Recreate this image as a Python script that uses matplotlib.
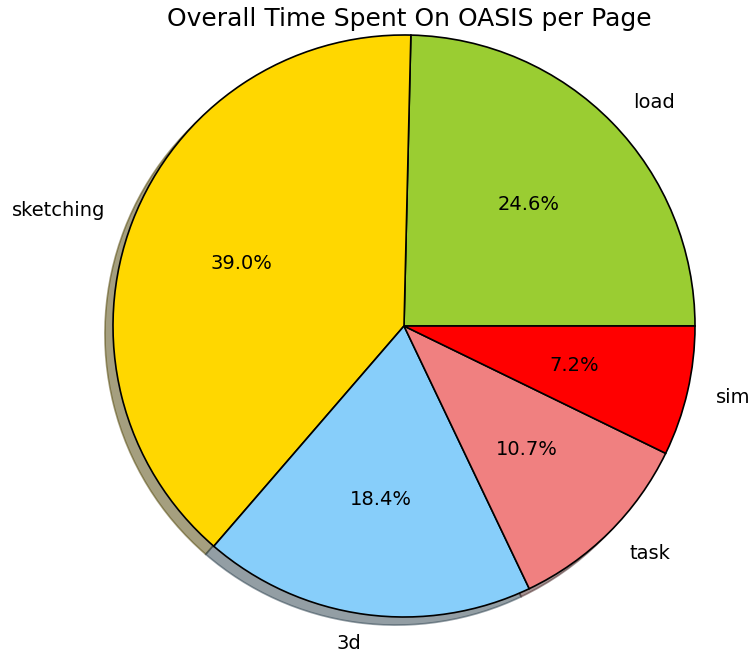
import matplotlib
matplotlib.use('Agg')
import matplotlib.pyplot as plt

# data
labels = ['load', 'sketching', '3d', 'task', 'sim']
shares = [24.6, 39.0, 18.4, 10.7, 7.2]
colors = ['yellowgreen', 'gold', 'lightskyblue', 'lightcoral', 'red']

W, H = 749, 653
fig = plt.figure(figsize=(W / 100, H / 100), dpi=100)

# pie centre ~ (404, 326) px, radius ~ 291 px
r = 291
cx, cy = 404, H - 326
half = 1.25 * r
ax = fig.add_axes([(cx - half) / W, (cy - half) / H, 2 * half / W, 2 * half / H])

ax.pie(shares, labels=labels, colors=colors, autopct='%1.1f%%', shadow=True,
       startangle=0, wedgeprops={'edgecolor': 'black', 'linewidth': 1.2},
       textprops={'fontsize': 14})
ax.set_xlim(-1.25, 1.25)
ax.set_ylim(-1.25, 1.25)
ax.set_aspect('equal')

fig.text(409 / W, (H - 19) / H, 'Overall Time Spent On OASIS per Page',
         ha='center', va='center', fontsize=18)

fig.savefig('out.png', dpi=100)
